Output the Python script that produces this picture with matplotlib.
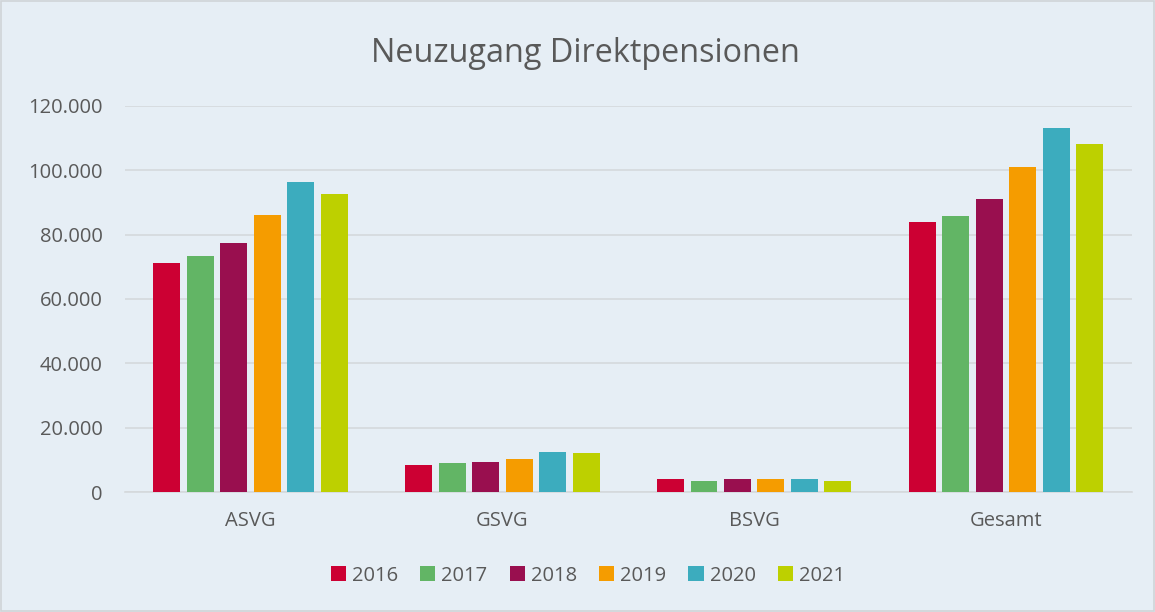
import matplotlib
matplotlib.use("Agg")
import matplotlib.pyplot as plt
import numpy as np
from matplotlib.ticker import FuncFormatter

categories = ["ASVG", "GSVG", "BSVG", "Gesamt"]
years = ["2016", "2017", "2018", "2019", "2020", "2021"]
values = {
    "2016": [71300, 8300, 4100, 84000],
    "2017": [73400, 8900, 3300, 85900],
    "2018": [77300, 9400, 4100, 91200],
    "2019": [86000, 10300, 4100, 100900],
    "2020": [96200, 12500, 4000, 113000],
    "2021": [92600, 12000, 3500, 108300],
}
colors = ["#CC0033", "#62B565", "#990F4F", "#F59C00", "#3CACBE", "#BDD000"]
title = "Neuzugang Direktpensionen"

plt.rcParams['font.family'] = ['Open Sans', 'DejaVu Sans']
bg = "#E6EEF5"
txt = "#595959"

fig = plt.figure(figsize=(11.55, 6.12), dpi=100, facecolor=bg)
ax = fig.add_axes([0.108, 0.196, 0.872, 0.631], facecolor=bg)

x = np.arange(len(categories))
step = 0.133
width = 0.107
for i, (yr, c) in enumerate(zip(years, colors)):
    off = (i - (len(years) - 1) / 2) * step
    ax.bar(x + off, values[yr], width=width, color=c, label=yr, zorder=3)

ax.set_xlim(-0.5, len(categories) - 0.5)
ax.set_ylim(0, 120000)
ax.set_yticks(np.arange(0, 120001, 20000))
ax.yaxis.set_major_formatter(FuncFormatter(lambda v, p: f"{int(v):,}".replace(",", ".")))
ax.grid(axis='y', color="#D5D9DC", linewidth=1.2, zorder=0)
ax.set_xticks(x)
ax.set_xticklabels(categories)
for s in ["top", "right", "left"]:
    ax.spines[s].set_visible(False)
ax.spines["bottom"].set_color("#D5D9DC")
ax.spines["bottom"].set_linewidth(1.2)
ax.tick_params(axis='both', length=0, colors=txt, labelsize=14.5)
ax.tick_params(axis='x', pad=14)
ax.tick_params(axis='y', pad=16)

fig.suptitle(title, x=0.507, y=0.94, fontsize=23.3, color=txt)
leg = fig.legend(loc="center", bbox_to_anchor=(0.509, 0.059), ncol=6, frameon=False,
                 fontsize=14.5, handlelength=0.75, handleheight=0.75, handletextpad=0.3,
                 columnspacing=1.1, labelcolor=txt)

border = plt.Rectangle((0.001, 0.001), 0.998, 0.998, transform=fig.transFigure,
                       fill=False, edgecolor="#D0D4D8", linewidth=1.2)
fig.patches.append(border)

fig.savefig("out.png", dpi=100, facecolor=bg)
